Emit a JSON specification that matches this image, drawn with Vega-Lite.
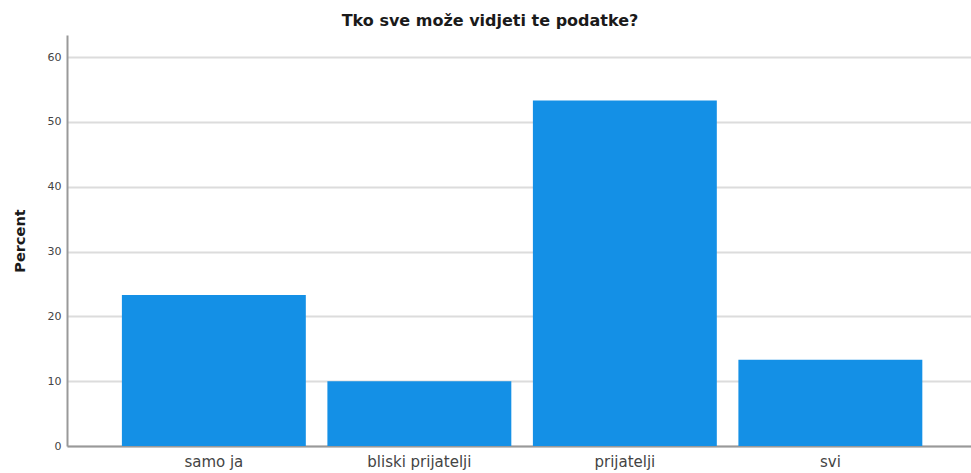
{
  "$schema": "https://vega.github.io/schema/vega-lite/v6.json",
  "autosize": "none",
  "width": 904,
  "height": 411,
  "padding": {"left": 67, "top": 35, "right": 0, "bottom": 27},
  "background": "white",
  "title": {
    "text": "Tko sve može vidjeti te podatke?",
    "font": "DejaVu Sans",
    "fontSize": 16,
    "fontWeight": "bold",
    "color": "#1a1a1a",
    "anchor": "middle",
    "dx": -29,
    "offset": 6
  },
  "data": {
    "values": [
      {"kategorija": "samo ja", "postotak": 23.3},
      {"kategorija": "bliski prijatelji", "postotak": 10.0},
      {"kategorija": "prijatelji", "postotak": 53.3},
      {"kategorija": "svi", "postotak": 13.3}
    ]
  },
  "mark": {"type": "bar", "color": "#1490e6"},
  "encoding": {
    "x": {
      "field": "kategorija",
      "type": "nominal",
      "sort": null,
      "scale": {"paddingInner": 0.105, "paddingOuter": 0.252, "align": 0.53},
      "axis": {
        "title": null,
        "labelAngle": 0,
        "labelFont": "DejaVu Sans",
        "labelFontSize": 15,
        "labelColor": "#444",
        "labelPadding": 8,
        "ticks": false,
        "domainColor": "#999",
        "domainWidth": 2
      }
    },
    "y": {
      "field": "postotak",
      "type": "quantitative",
      "scale": {"domain": [0, 63.4], "nice": false},
      "axis": {
        "title": "Percent",
        "titleFont": "DejaVu Sans",
        "titleFontSize": 14.5,
        "titleFontWeight": "bold",
        "titleColor": "#1a1a1a",
        "titlePadding": 20,
        "values": [0, 10, 20, 30, 40, 50, 60],
        "labelFont": "DejaVu Sans",
        "labelFontSize": 11,
        "labelColor": "#444",
        "labelPadding": 6,
        "ticks": false,
        "domainColor": "#999",
        "domainWidth": 2,
        "grid": true,
        "gridColor": "#dcdcdc",
        "gridWidth": 2
      }
    }
  },
  "config": {"view": {"stroke": null}}
}
